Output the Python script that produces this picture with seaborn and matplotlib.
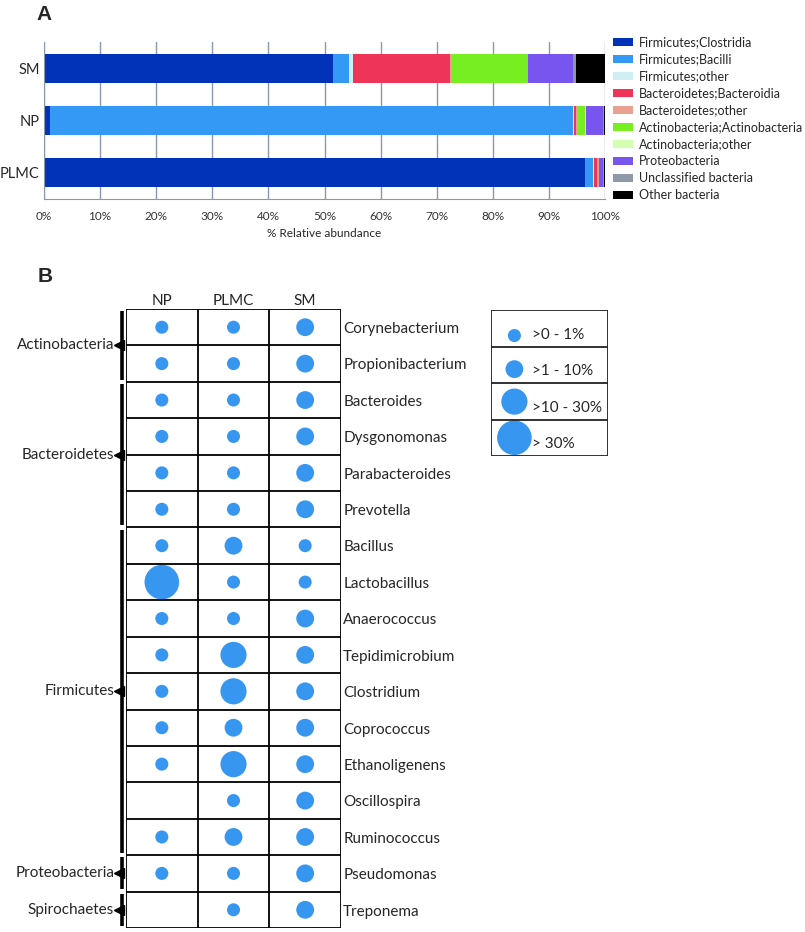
import numpy as np
import pandas as pd
import matplotlib
matplotlib.use('Agg')
import matplotlib.pyplot as plt
from matplotlib.patches import Patch
import seaborn as sns

# panel A: relative abundance (%) per sample
samples = ['SM', 'NP', 'PLMC']
taxa = ['Firmicutes;Clostridia', 'Firmicutes;Bacilli', 'Firmicutes;other',
        'Bacteroidetes;Bacteroidia', 'Bacteroidetes;other',
        'Actinobacteria;Actinobacteria', 'Actinobacteria;other',
        'Proteobacteria', 'Unclassified bacteria', 'Other bacteria']
sm_abund = [51.5, 2.9, 0.7, 17.3, 0.2, 13.6, 0.1, 8.0, 0.6, 5.1]
np_abund = [1.0, 93.3, 0.1, 0.5, 0.2, 1.4, 0.1, 3.1, 0.1, 0.2]
plmc_abund = [96.4, 1.5, 0.2, 0.4, 0.4, 0.1, 0.0, 0.6, 0.2, 0.2]
xticks = list(range(0, 101, 10))

# panel B: abundance class per genus (0 = absent, 1 = >0-1%, 2 = >1-10%, 3 = >10-30%, 4 = >30%)
genera = ['Corynebacterium', 'Propionibacterium', 'Bacteroides', 'Dysgonomonas',
          'Parabacteroides', 'Prevotella', 'Bacillus', 'Lactobacillus', 'Anaerococcus',
          'Tepidimicrobium', 'Clostridium', 'Coprococcus', 'Ethanoligenens',
          'Oscillospira', 'Ruminococcus', 'Pseudomonas', 'Treponema']
columns = ['NP', 'PLMC', 'SM']
np_class = [1, 1, 1, 1, 1, 1, 1, 4, 1, 1, 1, 1, 1, 0, 1, 1, 0]
plmc_class = [1, 1, 1, 1, 1, 1, 2, 1, 1, 3, 3, 2, 3, 1, 2, 1, 1]
sm_class = [2, 2, 2, 2, 2, 2, 1, 1, 2, 2, 2, 2, 2, 2, 2, 2, 2]
phyla = ['Actinobacteria', 'Bacteroidetes', 'Firmicutes', 'Proteobacteria', 'Spirochaetes']
phylum_counts = [2, 4, 9, 1, 1]
class_labels = ['>0 - 1%', '>1 - 10%', '>10 - 30%', '> 30%']

colors = ['#0033b8', '#3399f5', '#d0eef6', '#ee3558', '#eaa090',
          '#77ee22', '#d4ffb0', '#7755ee', '#8c9aa8', '#000000']
dot_color = '#3797f0'
size_map = {1: 88, 2: 165, 3: 355, 4: 620}

sns.set_style('white')
plt.rcParams['font.family'] = ['Lato', 'DejaVu Sans']

W, H = 805, 932
fig = plt.figure(figsize=(W / 100, H / 100), dpi=100)

def px(x0, y0, x1, y1):
    return [x0 / W, 1 - y1 / H, (x1 - x0) / W, (y1 - y0) / H]

# ---- panel A
ax1 = fig.add_axes(px(44, 42, 605, 199))
abund = pd.DataFrame({'SM': sm_abund, 'NP': np_abund, 'PLMC': plmc_abund}, index=taxa)
cum = abund.cumsum()
for taxon, col in reversed(list(zip(taxa, colors))):
    d = pd.DataFrame({'sample': samples, 'value': cum.loc[taxon, samples].values})
    extra = {'hatch': '....'} if taxon == 'Actinobacteria;other' else {}
    sns.barplot(data=d, x='value', y='sample', order=samples, orient='h', color=col,
                saturation=1, width=0.55, errorbar=None, edgecolor='none', ax=ax1, **extra)
ax1.set_xlim(0, 100)
ax1.set_xticks(xticks)
ax1.set_xticklabels([f'{t}%' for t in xticks], fontsize=8.5, color='#333333')
ax1.tick_params(axis='x', length=3, color='#8899aa', pad=6)
ax1.tick_params(axis='y', length=0, labelsize=10.5, pad=3)
ax1.xaxis.grid(True, color='#8899aa', lw=1)
ax1.set_axisbelow(True)
for s in ['top', 'right']:
    ax1.spines[s].set_visible(False)
for s in ['left', 'bottom']:
    ax1.spines[s].set_color('#8899aa')
ax1.set_xlabel('% Relative abundance', fontsize=8.5, labelpad=4)
ax1.set_ylabel('')

handles = [Patch(facecolor=c, edgecolor='none', hatch='....' if t == 'Actinobacteria;other' else None)
           for t, c in zip(taxa, colors)]
fig.legend(handles, taxa, loc='upper left', bbox_to_anchor=(608 / W, 1 - 31 / H),
           frameon=False, fontsize=9, handlelength=1.6, handleheight=0.6,
           labelspacing=0.4, handletextpad=0.5, borderaxespad=0)

fig.text(44 / W, 1 - 14 / H, 'A', fontsize=15, fontweight='bold', ha='center', va='center',
         family='Liberation Sans')
fig.text(45 / W, 1 - 276 / H, 'B', fontsize=15, fontweight='bold', ha='center', va='center',
         family='Liberation Sans')

# ---- panel B
ax2 = fig.add_axes(px(126, 309, 341, 928))
rows = []
for ci, (cname, vals) in enumerate(zip(columns, [np_class, plmc_class, sm_class])):
    for ri, v in enumerate(vals):
        rows.append({'x': ci + 0.5, 'y': ri + 0.5, 'cls': v})
dots = pd.DataFrame(rows)
dots = dots[dots['cls'] > 0]
sns.scatterplot(data=dots, x='x', y='y', size='cls', sizes=size_map, color=dot_color,
                linewidth=0, legend=False, ax=ax2)
n = len(genera)
ax2.set_xlim(0, 3)
ax2.set_ylim(n, 0)
ax2.hlines(range(n + 1), 0, 3, color='k', lw=1.3)
ax2.vlines(range(4), 0, n, color='k', lw=1.3)
ax2.set_axis_off()
for ci, cname in enumerate(columns):
    ax2.text(ci + 0.5, -0.22, cname, ha='center', va='center', fontsize=11)
for ri, g in enumerate(genera):
    ax2.text(3.03, ri + 0.55, g, ha='left', va='center', fontsize=11)
start = 0
for ph, cnt in zip(phyla, phylum_counts):
    end = start + cnt
    mid = (start + end) / 2
    ax2.plot([-0.05, -0.05], [start + 0.06, end - 0.06], color='k', lw=2.6,
             solid_capstyle='butt', clip_on=False)
    ax2.plot(-0.1, mid, marker='<', ms=7, color='k', clip_on=False)
    ax2.text(-0.165, mid, ph, ha='right', va='center', fontsize=11)
    start = end

# ---- size legend box
ax3 = fig.add_axes(px(491, 310, 608, 456))
leg = pd.DataFrame({'x': [0.2] * 4, 'y': [0.7, 1.62, 2.51, 3.5], 'cls': [1, 2, 3, 4]})
sns.scatterplot(data=leg, x='x', y='y', size='cls', sizes=size_map, color=dot_color,
                linewidth=0, legend=False, ax=ax3)
ax3.set_xlim(0, 1)
ax3.set_ylim(4, 0)
ax3.hlines(range(5), 0, 1, color='#222222', lw=1.3)
ax3.vlines([0, 1], 0, 4, color='#222222', lw=1.3)
ax3.set_axis_off()
for i, lab in enumerate(class_labels):
    ax3.text(0.35, i + 0.68, lab, ha='left', va='center', fontsize=11)

fig.savefig('out.png', dpi=100)
